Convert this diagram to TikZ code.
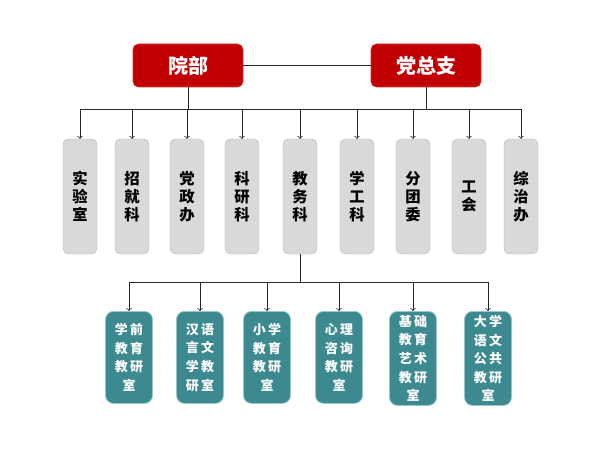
\documentclass[tikz,border=0pt]{standalone}
\usepackage{fontspec}
\setmainfont{Noto Sans CJK SC}
\usetikzlibrary{calc}
\definecolor{yuanred}{RGB}{192,0,0}
\definecolor{kegray}{RGB}{217,217,217}
\definecolor{jyteal}{RGB}{60,138,143}
\definecolor{jyedge}{RGB}{150,200,204}

\begin{document}
\begin{tikzpicture}[x=0.75pt, y=-0.75pt,
    topbox/.style={fill=yuanred, draw=yuanred!80, rounded corners=4pt, minimum width=82.5pt, minimum height=32.25pt, inner sep=0pt, text=white, font=\fontsize{15}{18}\selectfont\bfseries},
    kebox/.style={fill=kegray, draw=kegray!85!black, line width=0.3pt, rounded corners=4pt, minimum width=25.5pt, minimum height=86.25pt, inner sep=0pt, align=center, font=\fontsize{11.5}{13.5}\selectfont\bfseries},
    shibox/.style={fill=jyteal, draw=jyedge, line width=0.6pt, rounded corners=6pt, anchor=north, minimum width=35.25pt, minimum height=69pt, inner sep=0pt, align=center, text=white, font=\fontsize{9.75}{13.9}\selectfont\bfseries},
    link/.style={black!85, line width=0.6pt}]
    \useasboundingbox (0,0) rectangle (600,449);
    % top level
    \node (yb) at (188,65.5) [topbox] {院部};
    \node (dzz) at (426,65.5) [topbox] {党总支};
    \draw[link] (yb) -- (dzz);
    % offices
    \node (sys) at (80,196.5) [kebox] {实\\验\\室};
    \node (zjk) at (132,196.5) [kebox] {招\\就\\科};
    \node (dzb) at (187,196.5) [kebox] {党\\政\\办};
    \node (kyk) at (242,196.5) [kebox] {科\\研\\科};
    \node (jwk) at (300,196.5) [kebox] {教\\务\\科};
    \node (xgk) at (357,196.5) [kebox] {学\\工\\科};
    \node (ftw) at (413,196.5) [kebox] {分\\团\\委};
    \node (gh) at (469,196.5) [kebox] {工\\会};
    \node (zzb) at (521,196.5) [kebox] {综\\治\\办};
    \coordinate (bus) at (0,109);
    \draw[link] (yb.south) -- (yb.south |- bus);
    \draw[link] (dzz.south) -- (dzz.south |- bus);
    \draw[link] (sys.north |- bus) -- (zzb.north |- bus);
    \foreach \n in {sys,zjk,dzb,kyk,jwk,xgk,ftw,gh,zzb}
        \draw[link,->] (\n.north |- bus) -- (\n.north);
    % teaching and research rooms
    \node (xq) at (129,311) [shibox] {学\,前\\教\,育\\教\,研\\室};
    \node (hy) at (200,311) [shibox] {汉\,语\\言\,文\\学\,教\\研\,室};
    \node (xx) at (267,311) [shibox] {小\,学\\教\,育\\教\,研\\室};
    \node (xl) at (339,311) [shibox] {心\,理\\咨\,询\\教\,研\\室};
    \node (jc) at (413,311) [shibox, minimum height=70.5pt] {基\,础\\教\,育\\艺\,术\\教\,研\\室};
    \node (dx) at (488,311) [shibox, minimum height=70.5pt] {大\,学\\语\,文\\公\,共\\教\,研\\室};
    \coordinate (bus2) at (0,282);
    \draw[link] (jwk.south) -- (jwk.south |- bus2);
    \draw[link] (xq.north |- bus2) -- (dx.north |- bus2);
    \foreach \n in {xq,hy,xx,xl,jc,dx}
        \draw[link,->] (\n.north |- bus2) -- (\n.north);
\end{tikzpicture}
\end{document}
